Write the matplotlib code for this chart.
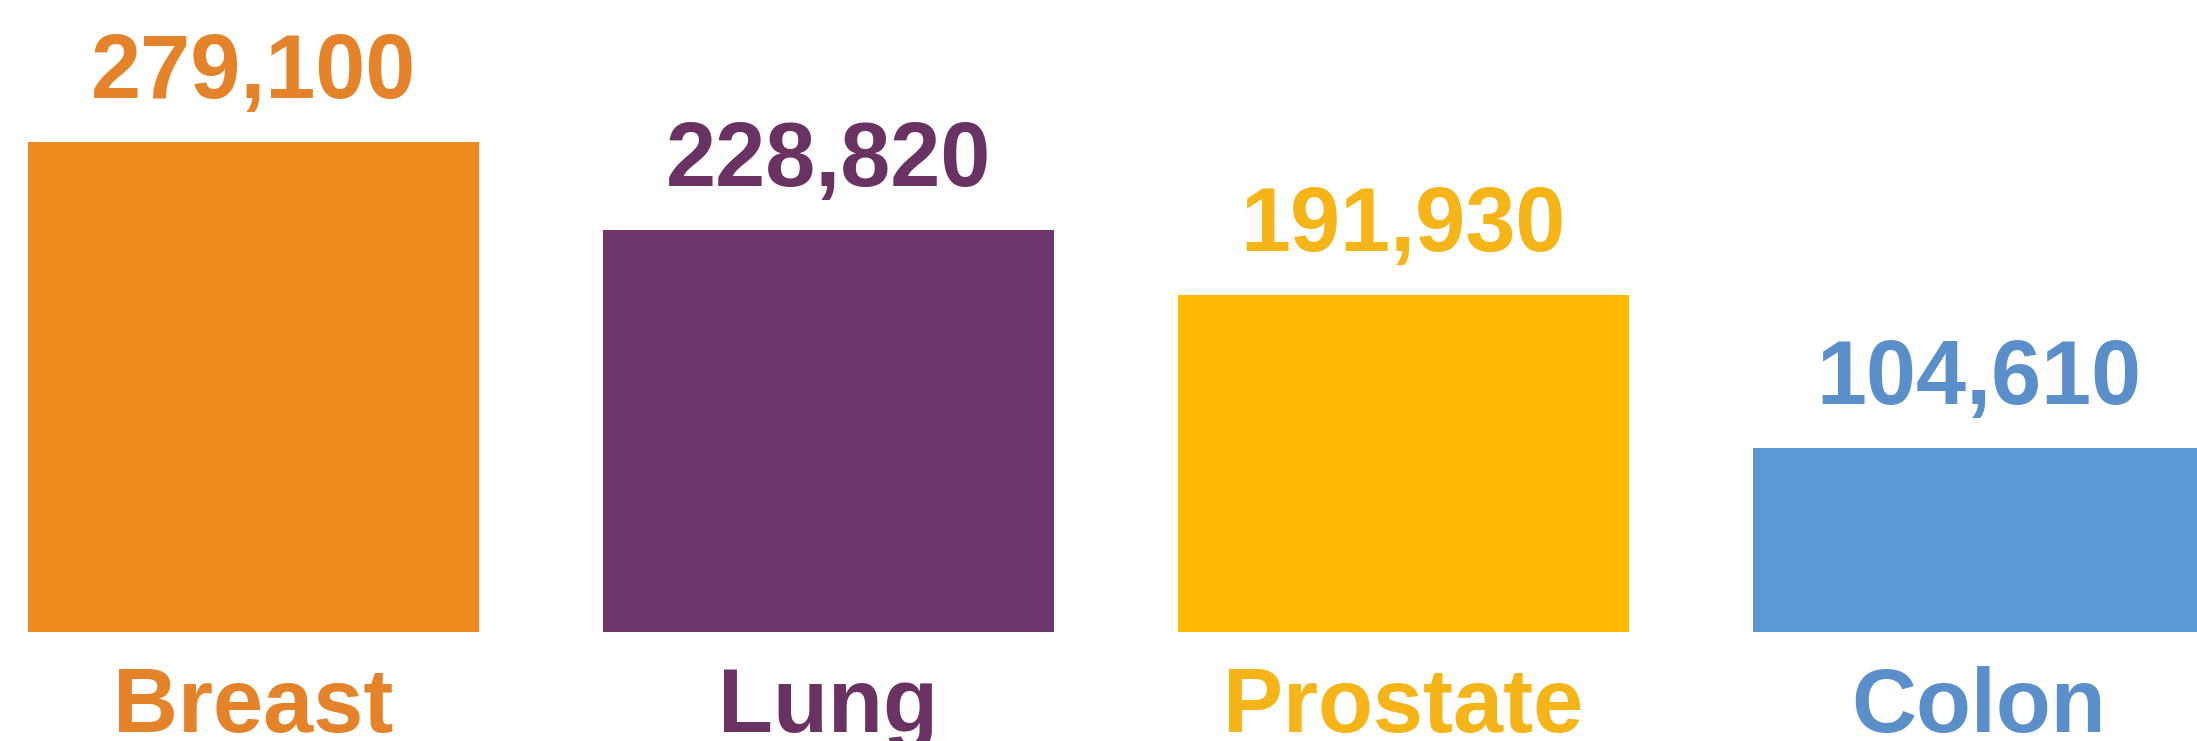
"""Bar chart of new cancer cases by site, labelled with counts."""

import matplotlib
matplotlib.use("Agg")
from matplotlib import pyplot as plt

sites = ["Breast", "Lung", "Prostate", "Colon"]
new_cases = [279100, 228820, 191930, 104610]
bar_colors = ["#EE8A1E", "#6E376C", "#FDBA00", "#5B97D2"]
text_colors = ["#E4832A", "#6A3263", "#F5B417", "#5A8FC9"]

DPI = 100
WIDTH_PX, HEIGHT_PX = 2197, 741


def main() -> None:
    fig = plt.figure(figsize=(WIDTH_PX / DPI, HEIGHT_PX / DPI), dpi=DPI)
    ax = fig.add_axes([0, 0, 1, 1])

    # one category step is 575 px, baseline sits 109 px above the bottom edge
    step_px = 575.0
    first_center_px = 253.5
    ax.set_xlim(-first_center_px / step_px, (WIDTH_PX - first_center_px) / step_px)
    per_px = max(new_cases) / 490.0
    baseline_px = 109.0
    ax.set_ylim(-baseline_px * per_px, (HEIGHT_PX - baseline_px) * per_px)

    positions = range(len(sites))
    ax.bar(positions, new_cases, width=0.785, color=bar_colors, linewidth=0)

    font = dict(family=["Liberation Sans", "DejaVu Sans"], fontweight="bold",
                fontsize=64.8)
    px_to_pt = 72.0 / DPI
    for x, value, name, tcolor in zip(positions, new_cases, sites, text_colors):
        ax.annotate(f"{value:,}", (x, value), xytext=(0, 44 * px_to_pt),
                    textcoords="offset points", ha="center", va="baseline",
                    color=tcolor, **font)
        ax.annotate(name, (x, 0), xytext=(0, -100 * px_to_pt),
                    textcoords="offset points", ha="center", va="baseline",
                    color=tcolor, **font)

    ax.set_axis_off()
    fig.savefig("out.png", dpi=DPI, facecolor="white")
    plt.close(fig)


if __name__ == "__main__":
    main()
